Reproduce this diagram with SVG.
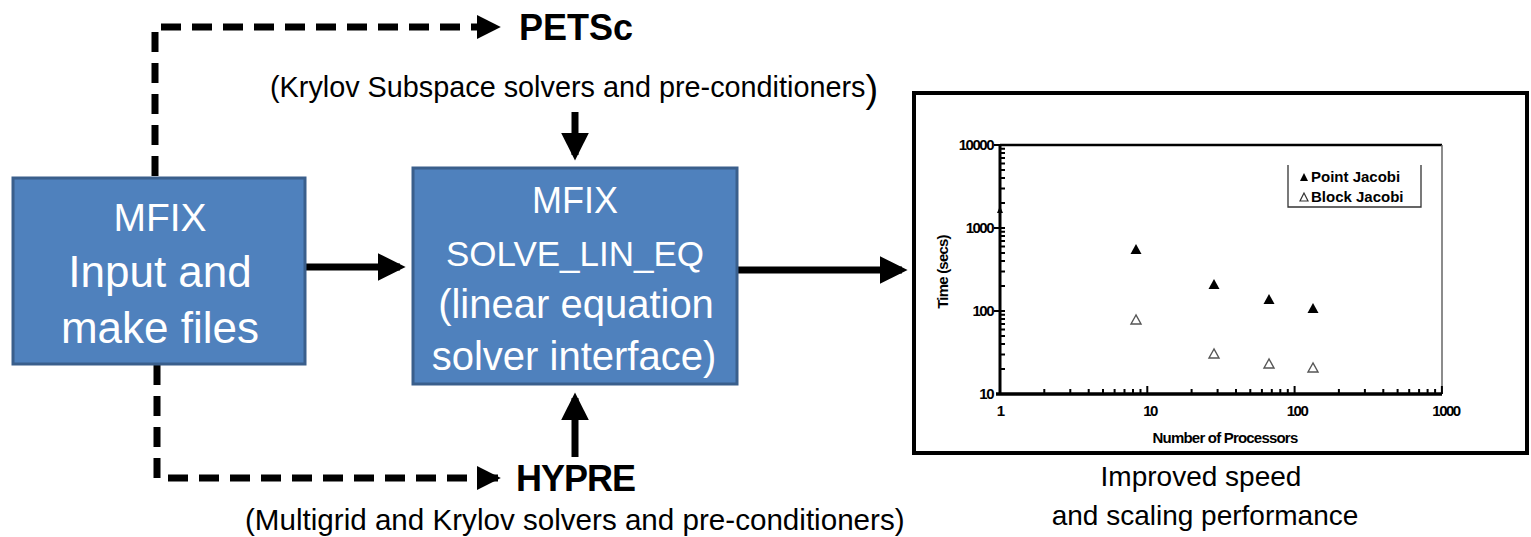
<svg xmlns="http://www.w3.org/2000/svg" width="1531" height="537" viewBox="0 0 1531 537">
<style>
.box{fill:#4F81BD;stroke:#3A5F8C;stroke-width:3}
.bt{fill:#fff;font-family:"Liberation Sans",Arial,sans-serif;text-anchor:middle}
.solid{stroke:#000;stroke-width:7;fill:none}
.dash{stroke:#000;stroke-width:7;fill:none;stroke-dasharray:20 11}
.lbl{font-family:"Liberation Sans",Arial,sans-serif;fill:#000}
.big{font-weight:bold;font-size:36px}
.sm{font-size:28px}
.ax{font-family:"Liberation Sans",Arial,sans-serif;font-weight:bold;font-size:15px;fill:#000}
.tk{stroke:#000;stroke-width:2}
</style>
<defs>
<marker id="ah" markerWidth="4" markerHeight="4" refX="3.2" refY="2" orient="auto" markerUnits="strokeWidth">
<path d="M0,0 L4,2 L0,4 Z" fill="#000"/>
</marker>
<marker id="ahd" markerWidth="3.4" markerHeight="3.4" refX="3" refY="1.7" orient="auto" markerUnits="strokeWidth">
<path d="M0,0 L3.4,1.7 L0,3.4 Z" fill="#000"/>
</marker>
</defs>

<g id="connectors">
<path class="dash" d="M155,176 V27 H498" marker-end="url(#ahd)"/>
<path class="dash" d="M157,365 V478 H498" marker-end="url(#ahd)"/>
<path class="solid" d="M305,267 H400" marker-end="url(#ah)"/>
<path class="solid" d="M737,270 H902" marker-end="url(#ah)"/>
<path class="solid" d="M575,112 V155" marker-end="url(#ah)"/>
<path class="solid" d="M575,457 V398" marker-end="url(#ah)"/>
</g>

<g id="mfix-input">
<rect class="box" x="13" y="178" width="292" height="186"/>
<text class="bt" x="160" y="231" font-size="39">MFIX</text>
<text class="bt" x="160" y="287" font-size="44">Input and</text>
<text class="bt" x="160" y="343" font-size="44">make files</text>
</g>

<g id="solve-lin-eq">
<rect class="box" x="413" y="168" width="324" height="216"/>
<text class="bt" x="575" y="213" font-size="36">MFIX</text>
<text class="bt" x="575" y="266" font-size="35">SOLVE_LIN_EQ</text>
<text class="bt" x="576" y="318" font-size="40">(linear equation</text>
<text class="bt" x="574" y="370" font-size="40">solver interface)</text>
</g>

<g id="petsc">
<text class="lbl big" x="519" y="40">PETSc</text>
<text class="lbl" x="270" y="97" font-size="28.8">(Krylov Subspace solvers and pre-conditioners<tspan font-size="38" dy="5">)</tspan></text>
</g>

<g id="hypre">
<text class="lbl big" x="516" y="491" letter-spacing="-1">HYPRE</text>
<text class="lbl" x="245" y="530" font-size="29.6">(Multigrid and Krylov solvers and pre-conditioners)</text>
</g>

<g id="chart">
<rect x="914" y="93" width="613" height="360" fill="#fff" stroke="#000" stroke-width="4"/>
<line x1="1000" y1="145" x2="1442" y2="145" stroke="#000" stroke-width="2.5"/>
<line x1="1442" y1="145" x2="1442" y2="394" stroke="#666" stroke-width="1.5"/>
<line x1="1000" y1="145" x2="1000" y2="394" stroke="#000" stroke-width="3"/>
<line x1="996" y1="394" x2="1442" y2="394" stroke="#000" stroke-width="3.5"/>
<g class="tk">
<path d="M1044.3,394v-5M1070.3,394v-5M1088.7,394v-5M1103,394v-5M1114.6,394v-5M1124.5,394v-5M1133,394v-5M1140.5,394v-5M1147.3,394v-8M1191.6,394v-5M1217.6,394v-5M1236,394v-5M1250.3,394v-5M1261.9,394v-5M1271.8,394v-5M1280.3,394v-5M1287.8,394v-5M1294.6,394v-8M1338.9,394v-5M1364.9,394v-5M1383.3,394v-5M1397.6,394v-5M1409.2,394v-5M1419.1,394v-5M1427.6,394v-5M1435.1,394v-5M1441.9,394v-8"/>
<path d="M1000,369h5M1000,354.4h5M1000,344h5M1000,336h5M1000,329.4h5M1000,323.9h5M1000,319.1h5M1000,314.8h5M994,311h11M1000,286h5M1000,271.4h5M1000,261h5M1000,253h5M1000,246.4h5M1000,240.9h5M1000,236.1h5M1000,231.8h5M994,228h11M1000,203h5M1000,188.4h5M1000,178h5M1000,170h5M1000,163.4h5M1000,157.9h5M1000,153.1h5M1000,148.8h5M994,145h8"/>
</g>
<text class="ax" x="993" y="150" text-anchor="end" letter-spacing="-1.5">10000</text>
<text class="ax" x="993" y="233" text-anchor="end" letter-spacing="-1.5">1000</text>
<text class="ax" x="993" y="316" text-anchor="end" letter-spacing="-1.5">100</text>
<text class="ax" x="993" y="399" text-anchor="end" letter-spacing="-1.5">10</text>
<text class="ax" x="1001" y="416" text-anchor="middle">1</text>
<text class="ax" x="1150" y="416" text-anchor="middle" letter-spacing="-1.5">10</text>
<text class="ax" x="1297" y="416" text-anchor="middle" letter-spacing="-1.5">100</text>
<text class="ax" x="1446" y="416" text-anchor="middle" letter-spacing="-1.5">1000</text>
<text class="ax" x="1225" y="443" text-anchor="middle" font-size="16.5" letter-spacing="-0.8">Number of Processors</text>
<text class="ax" transform="translate(948,272) rotate(-90)" text-anchor="middle" font-size="14" letter-spacing="-0.8">Time (secs)</text>
<path d="M1000,206 l-3,7 h6 Z" fill="#000"/>
<g fill="#000">
<path d="M1136,244 l-5.5,10 h11 Z"/>
<path d="M1214,279 l-5.5,10 h11 Z"/>
<path d="M1269,294 l-5.5,10 h11 Z"/>
<path d="M1313,303 l-5.5,10 h11 Z"/>
</g>
<g fill="none" stroke="#555" stroke-width="1.4">
<path d="M1136,315 l-5,9 h10 Z"/>
<path d="M1214,349 l-5,9 h10 Z"/>
<path d="M1269,359 l-5,9 h10 Z"/>
<path d="M1313,363 l-5,9 h10 Z"/>
</g>
<path d="M1288,165 V207 H1421 V165" fill="none" stroke="#333" stroke-width="1.3"/>
<path d="M1304,173 l-4,8 h8 Z" fill="#000"/>
<path d="M1304,193 l-4,8 h8 Z" fill="none" stroke="#333" stroke-width="1.2"/>
<text class="ax" x="1311" y="182" font-size="15">Point Jacobi</text>
<text class="ax" x="1311" y="202" font-size="15">Block Jacobi</text>
</g>

<g id="caption">
<text class="lbl sm" x="1201" y="486" text-anchor="middle">Improved speed</text>
<text class="lbl sm" x="1205" y="525" text-anchor="middle">and scaling performance</text>
</g>
</svg>
